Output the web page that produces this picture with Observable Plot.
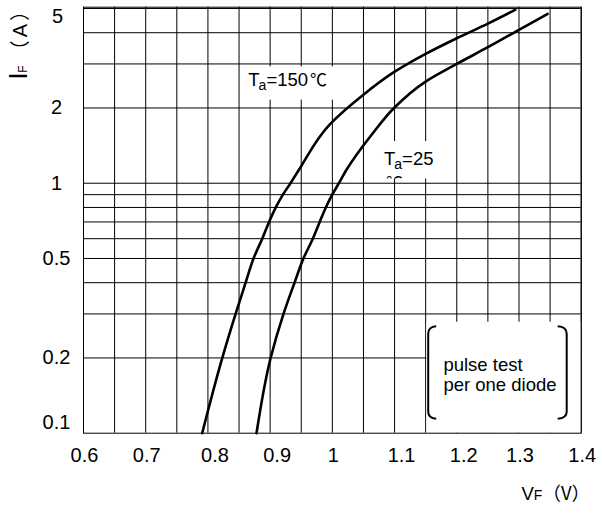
<!DOCTYPE html>
<html><head><meta charset="utf-8">
<script src="https://cdn.jsdelivr.net/npm/d3@7"></script>
<script src="https://cdn.jsdelivr.net/npm/@observablehq/plot@0.6"></script>
<style>
html,body{margin:0;padding:0;background:#fff;}
svg{display:block;}
</style>
</head><body><div id="chart"></div>
<script>
// ---- grid / tick values ----
const xGrid = [0.6,0.65,0.7,0.75,0.8,0.85,0.9,0.95,1.0,1.05,1.1,1.15,1.2,1.25,1.3,1.35,1.4];
const xTicksA = [0.6,0.7,1,1.3,1.4];
const xTicksB = [0.8,0.9,1.1,1.2];
const yGrid = [0.2,0.3,0.4,0.5,0.6,0.7,0.8,0.9,1,2,3,4,5];
const yTicksMid = [0.2,0.5,1,2];
const yTickTop = [5];
const yTickBottom = [0.1];

// ---- series: forward voltage (V) vs forward current (A) ----
const vf150 = [0.7908,0.8231,0.8445,0.8606,0.8733,0.8873,0.8983,0.9091,0.9205,0.9327,0.9456,0.9967,1.048,1.099,1.150,1.200,1.250,1.294];
const if150 = [0.1,0.2,0.3,0.4,0.5,0.6,0.7,0.8,0.9,1.0,1.124,1.728,2.24,2.78,3.29,3.80,4.35,4.94];
const vf25 = [0.8781,0.9008,0.9215,0.9392,0.9535,0.9686,0.9797,0.9895,0.9998,1.0105,1.0220,1.0663,1.0991,1.150,1.200,1.250,1.300,1.346];
const if25 = [0.1,0.2,0.3,0.4,0.5,0.6,0.7,0.8,0.9,1.0,1.124,1.6,2.0,2.55,3.0,3.5,4.11,4.76];

const t150 = vf150.map((v,k)=>({v, i: if150[k]}));
const t25 = vf25.map((v,k)=>({v, i: if25[k]}));

// annotation layout (data coordinates)
const boxes = [
  {x1: 0.855, x2: 1.01, y1: 2.15, y2: 2.92},
  {x1: 1.0774, x2: 1.1674, y1: 1.039, y2: 1.468},
  {x1: 1.152, x2: 1.4, y1: 0.1, y2: 0.278}
];

const font = "'Liberation Sans', Arial, Helvetica, sans-serif";
const cjk = "'Noto Sans CJK SC', 'Noto Sans CJK JP', sans-serif";

const plot = Plot.plot({
  width: 602, height: 514,
  marginLeft: 83, marginRight: 21.3, marginTop: 6.7, marginBottom: 81.3,
  style: {fontFamily: font, fontSize: "20px", color: "#000", background: "#fff", overflow: "visible"},
  x: {domain: [0.6, 1.4]},
  y: {type: "log", domain: [0.1, 5.06]},
  marks: [
    Plot.ruleX(xGrid, {stroke: "#000", strokeWidth: 1}),
    Plot.ruleY(yGrid, {stroke: "#000", strokeWidth: 1}),
    Plot.rect(boxes, {x1: "x1", x2: "x2", y1: "y1", y2: "y2", fill: "#fff"}),
    Plot.frame({stroke: "#000", strokeWidth: 1}),
    Plot.line(t150, {x: "v", y: "i", curve: "monotone-y", stroke: "#000", strokeWidth: 2.6}),
    Plot.line(t25, {x: "v", y: "i", curve: "monotone-y", stroke: "#000", strokeWidth: 2.6}),
    Plot.axisX(xTicksA, {tickSize: 0, tickPadding: 15, dx: 1, fontSize: 20, tickFormat: d => String(d)}),
    Plot.axisX(xTicksB, {tickSize: 0, tickPadding: 15, dx: 7, fontSize: 20, tickFormat: d => String(d)}),
    Plot.axisY(yTicksMid, {tickSize: 0, tickPadding: 27, textAnchor: "middle", fontSize: 20, tickFormat: d => String(d)}),
    Plot.axisY(yTickTop, {tickSize: 0, tickPadding: 26, textAnchor: "middle", dy: 8.5, fontSize: 20, tickFormat: d => String(d)}),
    Plot.axisY(yTickBottom, {tickSize: 0, tickPadding: 27, textAnchor: "middle", dy: -11, fontSize: 20, tickFormat: d => String(d)})
  ]
});

document.getElementById("chart").appendChild(plot);

const svg = d3.select(plot);
const X = v => plot.scale("x").apply(v);
const Y = v => plot.scale("y").apply(v);

function label(g, x, y, parts) {
  const t = g.append("text").attr("x", x).attr("y", y)
    .attr("font-family", font).attr("fill", "#000").attr("text-anchor", "start");
  parts.forEach(p => {
    const s = t.append("tspan").text(p.t).attr("font-size", p.size);
    if (p.dy) s.attr("dy", p.dy);
    if (p.dx) s.attr("dx", p.dx);
    if (p.font) s.attr("font-family", p.font);
  });
  return t;
}

const ann = svg.append("g").attr("text-anchor", "start");

// Ta = 150 ℃
label(ann, X(0.8657), Y(2.437), [
  {t: "T", size: 18.5},
  {t: "a", size: 14, dy: 3.5, dx: -1},
  {t: "=150", size: 18.5, dy: -3.5},
  {t: "℃", size: 17, font: cjk, dx: 2}
]);

// Ta = 25 ℃ (degree sign clipped by its box)
label(ann, X(1.0838), Y(1.177), [
  {t: "T", size: 18.5},
  {t: "a", size: 14, dy: 3.5, dx: -1},
  {t: "=25", size: 18.5, dy: -3.5}
]);
const b25 = boxes[1];
svg.append("defs").append("clipPath").attr("id", "clip25").append("rect")
  .attr("x", X(b25.x1)).attr("y", Y(b25.y2))
  .attr("width", X(b25.x2) - X(b25.x1)).attr("height", Y(b25.y1) - Y(b25.y2));
ann.append("text").attr("x", X(1.087)).attr("y", Y(0.948)).attr("text-anchor", "start")
  .attr("font-family", cjk).attr("font-size", 17).attr("clip-path", "url(#clip25)").text("℃");

// legend box: brackets + note
const lb = boxes[2];
const L = X(lb.x1), T = Y(lb.y2), R = X(1.4);
const bl = L + 1.8, br = R - 14;
ann.append("path")
  .attr("d", `M${bl+8},${T+4.5} Q${bl},${T+5} ${bl},${T+12} L${bl},${T+90} Q${bl},${T+96.5} ${bl+8},${T+97}`)
  .attr("fill", "none").attr("stroke", "#000").attr("stroke-width", 2);
ann.append("path")
  .attr("d", `M${br-9},${T+4.5} Q${br},${T+5} ${br},${T+12} L${br},${T+90} Q${br},${T+96.5} ${br-9},${T+97}`)
  .attr("fill", "none").attr("stroke", "#000").attr("stroke-width", 2);
label(ann, L + 17, T + 49, [{t: "pulse test", size: 18.5}]);
label(ann, L + 17, T + 69.5, [{t: "per one diode", size: 18.5}]);

// axis titles
label(ann, 521.5, 500, [
  {t: "V", size: 18.5},
  {t: "F", size: 14},
  {t: "（V）", size: 18.5, font: cjk}
]);

const yt = ann.append("text").attr("transform", "translate(26.7,79.6) rotate(-90)")
  .attr("font-family", font).attr("fill", "#000").attr("text-anchor", "start");
yt.append("tspan").attr("font-size", 25).text("I");
yt.append("tspan").attr("font-size", 12).text("F");
yt.append("tspan").attr("font-size", 20).attr("font-family", cjk).attr("dx", 5).text("（");
yt.append("tspan").attr("font-size", 20).attr("font-family", font).attr("dx", 3).text("A");
yt.append("tspan").attr("font-size", 20).attr("font-family", cjk).attr("dx", 3).text("）");
</script>
</body></html>
